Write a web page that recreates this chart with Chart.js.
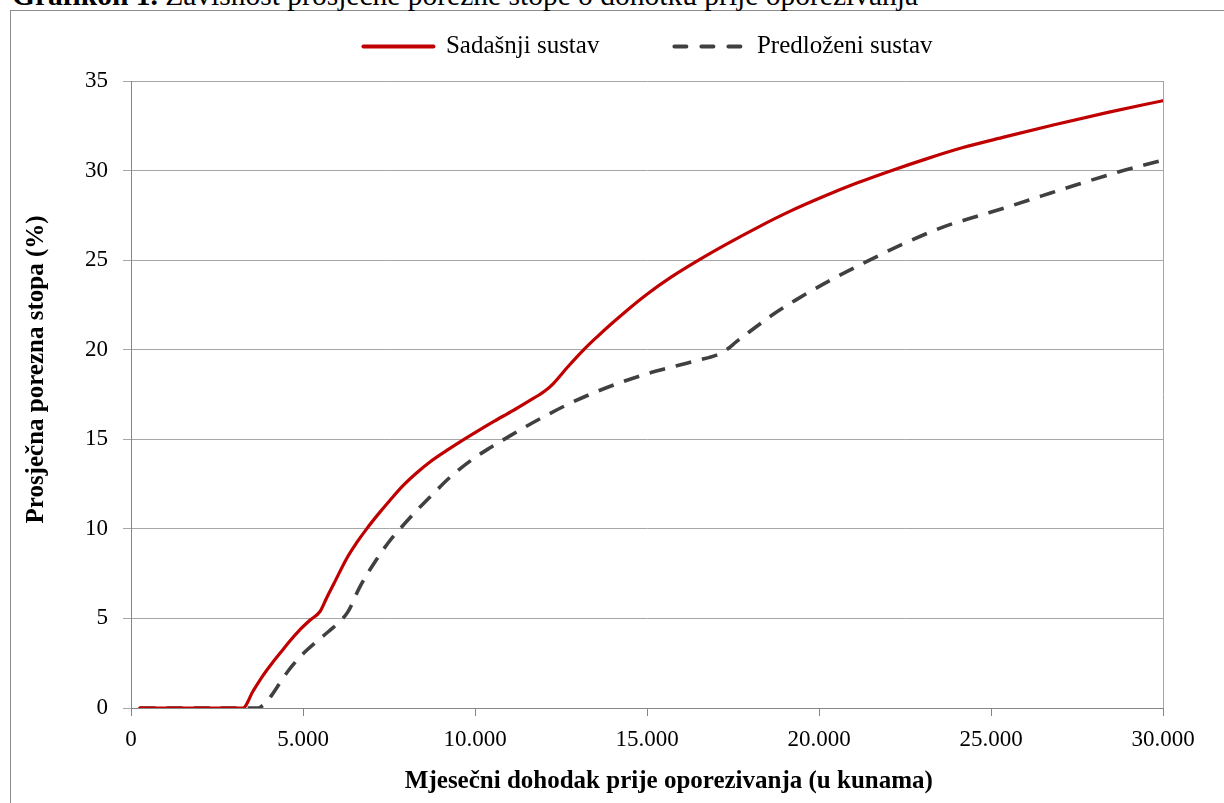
<!DOCTYPE html>
<html>
<head>
<meta charset="utf-8">
<script src="https://cdn.jsdelivr.net/npm/chart.js@4.4.1/dist/chart.umd.min.js"></script>
<style>
  html, body { margin: 0; padding: 0; background: #fff; overflow: hidden; }
  #wrap { position: relative; width: 1224px; height: 803px; }
  #frame { position: absolute; left: 10px; top: 10px; width: 1300px; height: 900px;
           border-left: 1.5px solid #8c8c8c; border-top: 1.5px solid #8c8c8c; }
  #caption { position: absolute; left: 12px; top: -19.5px; font-family: "Liberation Serif", serif;
             font-size: 29.5px; line-height: 29.5px; color: #000; white-space: nowrap; }
  canvas { position: absolute; left: 0; top: 0; }
</style>
</head>
<body>
<div id="wrap">
  <div id="frame"></div>
  <div id="caption"><b>Grafikon 1.</b> Zavisnost prosječne porezne stope o dohotku prije oporezivanja</div>
  <canvas id="c" width="1224" height="803"></canvas>
</div>
<script>
// Monthly income before tax (kn) and average tax rate (%)
const currentX = [250, 3250, 3550, 3850, 4100, 4330, 4600, 4900, 5200, 5500, 5700, 5900, 6270, 6550, 6850, 7200, 7530, 7900, 8300, 8700, 9180, 9600, 10050, 10550, 11100, 11550, 12000, 12270, 12700, 13150, 13550, 13950, 14450, 15000, 15700, 16500, 17300, 18250, 19150, 20130, 21100, 22140, 23100, 24160, 25400, 26840, 28400, 30000];
const currentY = [0, 0, 0.95, 1.85, 2.5, 3.05, 3.7, 4.35, 4.9, 5.4, 6.2, 6.95, 8.35, 9.2, 10.0, 10.85, 11.6, 12.4, 13.12, 13.75, 14.38, 14.9, 15.43, 16.0, 16.6, 17.12, 17.65, 18.1, 19.05, 19.98, 20.72, 21.42, 22.25, 23.1, 24.05, 25.0, 25.88, 26.86, 27.72, 28.55, 29.3, 30.02, 30.64, 31.27, 31.88, 32.56, 33.25, 33.9];

const proposedX = [250, 3700, 3800, 3950, 4140, 4380, 4573, 4850, 5107, 5400, 5700, 6050, 6300, 6650, 7142, 7529, 7820, 8304, 8790, 9273, 9855, 10400, 10920, 11450, 12000, 12700, 13410, 14200, 15020, 15750, 16500, 17000, 17300, 17600, 17980, 18650, 19320, 20400, 21470, 22500, 23620, 24550, 25500, 26500, 27510, 28700, 30000];
const proposedY = [0, 0, 0.1, 0.35, 0.85, 1.55, 2.08, 2.72, 3.22, 3.72, 4.2, 4.8, 5.35, 6.75, 8.3, 9.35, 10.0, 11.02, 11.97, 12.88, 13.78, 14.48, 15.08, 15.68, 16.26, 16.95, 17.56, 18.15, 18.67, 19.05, 19.42, 19.68, 19.98, 20.45, 21.0, 21.95, 22.77, 23.95, 25.0, 25.95, 26.86, 27.42, 27.98, 28.6, 29.22, 29.92, 30.58];

const seriesNames = ["Sadašnji sustav", "Predloženi sustav"];
const xTitle = "Mjesečni dohodak prije oporezivanja (u kunama)";
const yTitle = "Prosječna porezna stopa (%)";

const toPts = (xs, ys) => xs.map((x, i) => ({ x: x, y: ys[i] }));
const fmt = v => String(v).replace(/\B(?=(\d{3})+(?!\d))/g, '.');
const FONT = "'Liberation Serif', serif";

const legendFit = {
  id: 'legendFit',
  beforeInit(chart) {
    const lg = chart.legend;
    if (!lg) return;
    const orig = lg.fit;
    lg.fit = function () { orig.call(this); this.height = 81 + 41; };
  },
  afterLayout(chart) {
    const lg = chart.legend;
    if (lg) { lg.left += 60; lg.right += 60; }
  }
};
const plotBorder = {
  id: 'plotBorder',
  beforeDatasetsDraw(chart) {
    const { ctx, chartArea: a } = chart;
    ctx.save();
    ctx.strokeStyle = '#a6a6a6';
    ctx.lineWidth = 1;
    ctx.beginPath();
    ctx.moveTo(Math.round(a.right) + 0.5, a.top);
    ctx.lineTo(Math.round(a.right) + 0.5, a.bottom);
    ctx.stroke();
    ctx.restore();
  }
};

const legendDash = [[], [12, 15]];

new Chart(document.getElementById('c'), {
  type: 'line',
  data: {
    datasets: [
      { label: seriesNames[0], data: toPts(currentX, currentY), borderColor: '#c00000', backgroundColor: '#c00000',
        borderWidth: 3.2, pointRadius: 0, cubicInterpolationMode: 'monotone', borderCapStyle: 'round', borderJoinStyle: 'round' },
      { label: seriesNames[1], data: toPts(proposedX, proposedY), borderColor: '#404040', backgroundColor: '#404040',
        borderWidth: 3.6, borderDash: [16, 11], pointRadius: 0, cubicInterpolationMode: 'monotone', borderCapStyle: 'butt', borderJoinStyle: 'round' }
    ]
  },
  options: {
    responsive: false,
    animation: false,
    devicePixelRatio: 1,
    layout: { padding: { left: 13, right: 61, top: -41, bottom: 0 } },
    plugins: {
      legend: {
        display: true, position: 'top', align: 'center',
        labels: {
          usePointStyle: true, pointStyle: 'line', pointStyleWidth: 70, padding: 75,
          color: '#000', font: { family: FONT, size: 25 },
          generateLabels(chart) {
            return chart.data.datasets.map((ds, i) => ({
              text: ds.label, datasetIndex: i, hidden: false,
              fillStyle: ds.borderColor, strokeStyle: ds.borderColor, fontColor: '#000',
              lineWidth: 4, lineDash: legendDash[i], lineCap: 'round', pointStyle: 'line'
            }));
          }
        }
      },
      tooltip: { enabled: false }
    },
    scales: {
      x: {
        type: 'linear', min: 0, max: 30000,
        afterFit: s => { s.height = 803 - 708; },
        ticks: { stepSize: 5000, color: '#000', padding: 10, font: { family: FONT, size: 23 }, callback: v => fmt(v), maxRotation: 0 },
        grid: { drawOnChartArea: false, drawTicks: true, tickLength: 8, color: '#868686', lineWidth: 1 },
        border: { color: '#868686', width: 1 },
        title: { display: true, text: "       " + xTitle, color: '#000', padding: { top: 4, bottom: 6 },
                 font: { family: FONT, size: 25, weight: 'bold' } }
      },
      y: {
        min: 0, max: 35,
        afterFit: s => { s.width = 131 - 13; },
        ticks: { stepSize: 5, color: '#000', padding: 15, font: { family: FONT, size: 23 } },
        grid: { color: '#a6a6a6', lineWidth: 1, tickLength: 8 },
        border: { color: '#868686', width: 1 },
        title: { display: true, text: "        " + yTitle, color: '#000', padding: { top: 9, bottom: 0 },
                 font: { family: FONT, size: 25, weight: 'bold' } }
      }
    }
  },
  plugins: [legendFit, plotBorder]
});
</script>
</body>
</html>
